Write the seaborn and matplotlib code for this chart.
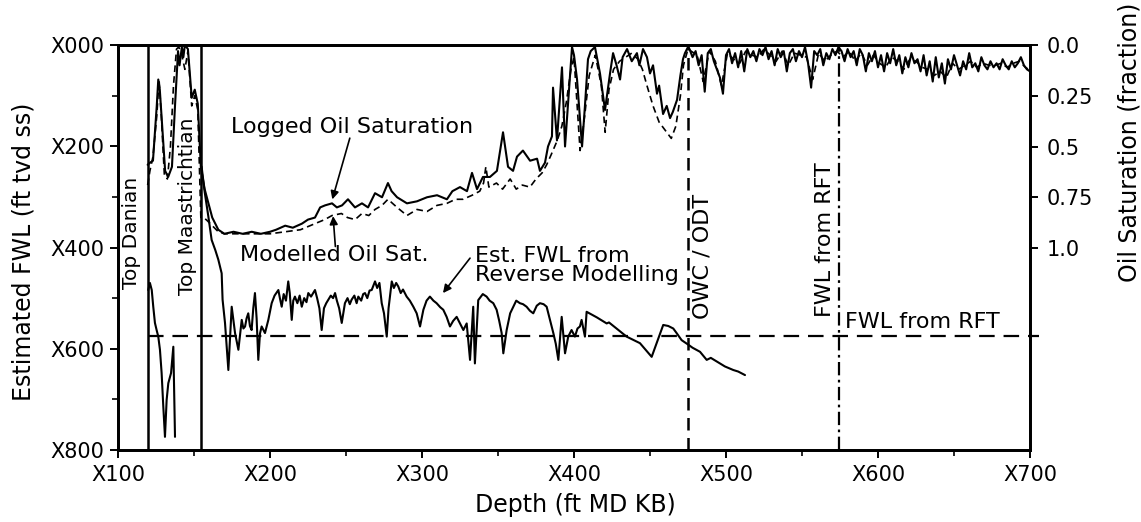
import matplotlib
matplotlib.use("Agg")
import matplotlib.pyplot as plt
import numpy as np
import pandas as pd
import seaborn as sns

# ---------------- data ----------------
# Logged oil saturation (fraction) vs depth (ft MD KB, "X" prefix dropped)
logged_depth = [119.5, 121, 123, 125.5, 126.5, 127.5, 129, 131, 133, 135.5, 137.5, 139.5, 140.5, 142, 143, 144, 146,
                148.5, 150.5, 152.5, 154.5, 157, 162, 166, 170, 176, 182, 188, 194, 200, 204, 210, 215, 221, 225,
                229.6, 233, 236.2, 240.8, 244, 247.4, 251.3, 255.9, 260.5, 264.5, 269.1, 273.7, 277.6, 280, 283.6,
                290.1, 296.7, 303.3, 309.9, 316.4, 320, 325, 329.6, 332.9, 336.2, 340.1, 344.7, 349.3, 353.3, 356.6,
                359.9, 362.5, 366.4, 371.1, 375.7, 377.6, 380.9, 382.9, 385.5, 386.2, 388.8, 392.1, 394.1, 396, 398.7,
                400, 402, 405.3, 407.2, 409.2, 411, 413.8, 417.1, 420.4, 423.7, 425.7, 428, 430.3, 432, 434.9, 438,
                441.4, 443, 445.4, 448, 450, 452, 454.6, 456, 458.6, 461, 463.2, 465, 467.8, 470, 471.7, 473, 475,
                476, 478, 480, 482, 484, 486, 488, 490, 492, 494, 496, 498, 500, 502, 504, 506, 508, 510, 512, 514,
                516, 518, 520, 522, 524, 526, 528, 530, 532, 534, 536, 538, 540, 542, 544, 546, 548, 550, 552, 554,
                556, 558, 560, 562, 564, 566, 568, 570, 572, 574, 576, 578, 580, 582, 584, 586, 588, 590, 592, 594,
                596, 598, 600, 602, 604, 606, 608, 610, 612, 614, 616, 618, 620, 622, 624, 626, 628, 630, 632, 634,
                636, 638, 640, 642, 644, 646, 648, 650, 652, 654, 656, 658, 660, 662, 664, 666, 668, 670, 672, 674,
                676, 678, 680, 682, 684, 686, 688, 690, 692, 694, 696, 698, 700]
logged_sat = [0.59, 0.58, 0.57, 0.30, 0.17, 0.22, 0.39, 0.62, 0.65, 0.60, 0.30, 0.03, 0.10, 0.01, 0.06, 0.00, 0.02,
              0.26, 0.22, 0.29, 0.60, 0.71, 0.85, 0.91, 0.93, 0.92, 0.93, 0.92, 0.93, 0.92, 0.91, 0.89, 0.90, 0.88, 0.86,
              0.85, 0.80, 0.79, 0.78, 0.80, 0.79, 0.76, 0.80, 0.78, 0.80, 0.73, 0.75, 0.68, 0.72, 0.75,
              0.78, 0.77, 0.75, 0.74, 0.76, 0.72, 0.70, 0.72, 0.63, 0.71, 0.65, 0.65, 0.62, 0.43, 0.60,
              0.62, 0.55, 0.52, 0.57, 0.56, 0.62, 0.58, 0.50, 0.45, 0.21, 0.47, 0.11, 0.50, 0.30, 0.01,
              0.05, 0.17, 0.50, 0.30, 0.07, 0.03, 0.01, 0.14, 0.32, 0.14, 0.04, 0.10, 0.17, 0.06, 0.02, 0.08,
              0.04, 0.10, 0.02, 0.06, 0.14, 0.10, 0.24, 0.20, 0.34, 0.30, 0.36, 0.33, 0.27, 0.15, 0.07, 0.04, 0.01,
              0.02, 0.06, 0.03, 0.10, 0.05, 0.23, 0.04, 0.02, 0.08, 0.12, 0.16, 0.24, 0.05, 0.02, 0.09, 0.04, 0.11, 0.03, 0.13, 0.02,
              0.06, 0.03, 0.08, 0.02, 0.05, 0.01, 0.07, 0.03, 0.10, 0.02, 0.06, 0.03, 0.13, 0.04, 0.02, 0.08, 0.03, 0.06, 0.01, 0.09,
              0.21, 0.03, 0.05, 0.02, 0.10, 0.04, 0.07, 0.02, 0.05, 0.01, 0.03, 0.08, 0.02, 0.06, 0.03, 0.10, 0.02, 0.05, 0.13, 0.04,
              0.08, 0.03, 0.11, 0.05, 0.13, 0.04, 0.09, 0.02, 0.10, 0.05, 0.14, 0.06, 0.11, 0.04, 0.09, 0.07, 0.13, 0.05, 0.15, 0.08,
              0.18, 0.06, 0.16, 0.09, 0.19, 0.07, 0.12, 0.05, 0.10, 0.15, 0.08, 0.12, 0.04, 0.11, 0.09, 0.13, 0.06, 0.10, 0.12, 0.08,
              0.11, 0.09, 0.12, 0.07, 0.10, 0.12, 0.08, 0.11, 0.09, 0.06, 0.10, 0.12, 0.13]

# Modelled oil saturation (fraction)
modelled_depth = [119.5, 121, 123, 125.5, 127, 128.5, 130.5, 132.5, 134.5, 136.5, 138.5, 140, 142, 144, 146, 148.5,
                  150.5, 152.5, 154.5, 158, 162, 166, 170, 180, 190, 200, 210, 220, 229.6, 236, 240.8, 247, 251,
                  256, 260.5, 265, 269.1, 273.7, 277.6, 283.6, 290.1, 296.7, 303.3, 309.9, 316.4, 322, 327, 333,
                  338, 340.5, 342, 344, 349, 353, 358, 362, 366, 371, 375, 379, 382, 385, 389, 392, 395, 398, 400,
                  404, 407, 410, 414, 418, 420.5, 423, 426, 430, 434, 438, 442, 445, 448, 452, 456, 460, 464, 467,
                  470, 472, 475, 477, 481, 485, 489, 493, 497, 501, 505, 509, 513, 517, 521, 525, 529, 533, 537,
                  541, 545, 549, 553, 557, 561, 565, 569, 573, 577, 581, 585, 589, 593, 597, 601, 605, 609, 613,
                  617, 621, 625, 629, 633, 637, 641, 645, 649, 653, 657, 661, 665, 669, 673, 677, 681, 685, 689,
                  693, 697, 699]
modelled_sat = [0.69, 0.62, 0.55, 0.35, 0.17, 0.35, 0.64, 0.66, 0.50, 0.20, 0.02, 0.01, 0.05, 0.12, 0.03, 0.30,
                0.25, 0.32, 0.85, 0.86, 0.89, 0.92, 0.93, 0.93, 0.93, 0.93, 0.92, 0.91, 0.88, 0.86, 0.84, 0.83, 0.85,
                0.86, 0.83, 0.84, 0.81, 0.79, 0.76, 0.80, 0.84, 0.81, 0.82, 0.79, 0.78, 0.76, 0.76, 0.74,
                0.72, 0.68, 0.60, 0.70, 0.68, 0.71, 0.66, 0.71, 0.69, 0.70, 0.66, 0.63, 0.59, 0.54, 0.47, 0.40, 0.28, 0.12, 0.06,
                0.52, 0.35, 0.15, 0.05, 0.20, 0.43, 0.22, 0.12, 0.08, 0.06, 0.04, 0.07, 0.12, 0.20, 0.30, 0.38, 0.42, 0.46, 0.40,
                0.25, 0.10, 0.02, 0.03, 0.05, 0.18, 0.03, 0.08, 0.20, 0.04, 0.07, 0.09, 0.03, 0.05, 0.06, 0.02, 0.05, 0.08, 0.03,
                0.10, 0.04, 0.05, 0.06, 0.17, 0.04, 0.08, 0.05, 0.03, 0.06, 0.03, 0.08, 0.04, 0.10, 0.05, 0.09, 0.11, 0.06, 0.08,
                0.12, 0.07, 0.08, 0.11, 0.12, 0.15, 0.13, 0.16, 0.09, 0.12, 0.10, 0.08, 0.11, 0.09, 0.10, 0.10, 0.09, 0.11, 0.09,
                0.08, 0.11, 0.12]

# Estimated FWL from reverse modelling (ft tvd ss, "X" prefix dropped); two separate segments
fwl_depth_a = [119.9, 121, 122.2, 123.2, 124.3, 125.4, 126.5, 127.6, 128.7, 129.8, 130.9, 132, 133.1, 134.9, 136.4, 137.5]
fwl_value_a = [484, 470, 484, 517, 549, 563, 576, 602, 648, 714, 774, 701, 668, 648, 596, 774]
fwl_depth_b = [155, 157, 159.5, 161.6, 164, 166, 168.2, 168.8, 170.4, 172.6, 174.8, 177, 179.2, 181.4, 182.5, 183.6,
               184.6, 185.7, 186.8, 187.9, 189, 190.1, 191.2, 192.3, 193.4, 194.5, 196.7, 198.9, 201.1, 203, 205.5,
               206.5, 207.7, 209, 210.5, 212, 213, 214.3, 215.3, 216.4, 218, 219.5, 220.9, 222.5, 224, 225.2, 227,
               229.6, 231, 232.5, 234, 235.5, 237, 238.4, 240, 241.5, 242.8, 244, 245.5, 247.2, 249.3, 251, 252.5,
               253.7, 255.5, 257, 258.1, 260, 261.3, 262.5, 264, 265.5, 266.9, 269.1, 270.5, 272, 273.5, 275, 276.8,
               278, 280.1, 281.5, 283, 284.4, 286, 287.5, 289.9, 292, 294.3, 296.5, 298.7, 300.9, 303, 305.2, 307.5,
               309.6, 312, 314, 316.2, 318.4, 320.5, 322.8, 325, 327.2, 329.4, 331.6, 333.7, 334.8, 337, 340,
               342.5, 344.5, 346.9, 349.1, 350.8, 352.4, 353.5, 355.7, 358, 360.1, 362, 364.4, 366.5, 368.8, 371,
               373.2, 375.5, 377.6, 380, 382, 384.2, 386.4, 388, 389.7, 391.9, 394.1, 396.2, 398.4, 400.6, 402.3,
               403.9, 405, 407.2, 408.3, 415, 421.5, 423, 428, 434.6, 443.4, 451.1, 458.7, 462, 465.3, 467.5, 470.8,
               475.2, 478, 482.9, 487.3, 490, 493.8, 499.3, 504.8, 508, 512.5]
fwl_value_b = [240, 290, 340, 385, 405, 424, 451, 503, 549, 642, 517, 569, 602, 543, 560, 556,
               540, 530, 555, 563, 520, 490, 540, 622, 570, 556, 569, 543, 510, 495, 484,
               500, 517, 492, 505, 467, 490, 543, 505, 497, 510, 495, 517, 500, 508, 490, 497,
               484, 500, 520, 563, 520, 510, 503, 495, 500, 490, 505, 520, 549, 510, 500, 512,
               503, 495, 510, 497, 505, 492, 490, 500, 485, 484, 467, 480, 470, 510, 530, 576,
               520, 467, 480, 470, 477, 490, 483, 497, 505, 517, 530, 556, 523, 505, 497, 505,
               510, 518, 523, 537, 556, 545, 537, 550, 563, 550, 622, 517, 629, 504, 492,
               497, 505, 510, 523, 545, 569, 609, 563, 530, 517, 505, 510, 512, 517, 525,
               530, 515, 510, 512, 517, 543, 569, 590, 622, 537, 609, 576, 563, 576, 560,
               556, 543, 576, 527, 538, 550, 548, 560, 576, 589, 616, 553, 555, 560, 569, 583,
               592, 598, 606, 622, 618, 625, 635, 642, 645, 652]

# Reference markers
top_danian = 119.5
top_maastrichtian = 154.5
owc_odt = 475
fwl_rft_depth = 574.5
fwl_rft_level = 575

x_ticks = [100, 200, 300, 400, 500, 600, 700]
x_tick_labels = ["X100", "X200", "X300", "X400", "X500", "X600", "X700"]
y_ticks = [0, 200, 400, 600, 800]
y_tick_labels = ["X000", "X200", "X400", "X600", "X800"]
sat_ticks = [0.0, 0.25, 0.5, 0.75, 1.0]
sat_tick_labels = ["0.0", "0.25", "0.5", "0.75", "1.0"]

# ---------------- figure ----------------
sns.set_theme(style="ticks")
plt.rcParams['font.family'] = ['DejaVu Sans']
plt.rcParams['text.color'] = 'black'
plt.rcParams['axes.labelcolor'] = 'black'
plt.rcParams['xtick.color'] = 'black'
plt.rcParams['ytick.color'] = 'black'
FS_TICK = 15
FS_ANN = 16
FS_TOP = 14.5
FS_LAB = 17

W, H = 1141, 522
fig = plt.figure(figsize=(W / 100, H / 100), dpi=100)
fig.patch.set_facecolor("white")
ax = fig.add_axes([118 / W, 1 - 450 / H, (1030 - 118) / W, (450 - 45) / H])
ax2 = ax.twinx()
ax.set_facecolor("white")

fwl_df = pd.DataFrame({
    "depth": fwl_depth_a + fwl_depth_b,
    "fwl": fwl_value_a + fwl_value_b,
    "seg": ["a"] * len(fwl_depth_a) + ["b"] * len(fwl_depth_b),
})
sns.lineplot(data=fwl_df, x="depth", y="fwl", units="seg", estimator=None, sort=False,
             color="black", lw=1.5, ax=ax, legend=False)

sns.lineplot(x=logged_depth, y=logged_sat, estimator=None, sort=False, color="black", lw=1.5, ax=ax2)
sns.lineplot(x=modelled_depth, y=modelled_sat, estimator=None, sort=False, color="black", lw=1.2, ax=ax2)
ax2.lines[-1].set_dashes([4, 2.5])

# reference lines
ax.axvline(top_danian, color="black", lw=1.8)
ax.axvline(top_maastrichtian, color="black", lw=1.8)
ax.axvline(owc_odt, color="black", lw=1.8, dashes=[5, 3])
ax.axvline(fwl_rft_depth, color="black", lw=1.6, dashes=[6, 2, 1.2, 2])
ax.plot([top_danian, 706], [fwl_rft_level, fwl_rft_level], color="black", lw=1.6,
        dashes=[7, 4], clip_on=False)

# axes limits / ticks
ax.set_xlim(100, 700)
ax.set_ylim(800, 0)
ax2.set_ylim(1.995, 0)
ax.set_xticks(x_ticks)
ax.set_xticklabels(x_tick_labels, fontsize=FS_TICK)
ax.set_xticks([150, 250, 350, 450, 550, 650], minor=True)
ax.set_yticks(y_ticks)
ax.set_yticklabels(y_tick_labels, fontsize=FS_TICK)
ax.set_yticks([100, 300, 500, 700], minor=True)
ax2.set_yticks(sat_ticks)
ax2.set_yticklabels(sat_tick_labels, fontsize=FS_TICK)
for a in (ax, ax2):
    a.tick_params(which="major", direction="out", length=6, width=1.4, colors="black", pad=4)
    a.tick_params(which="minor", direction="out", length=4, width=1.2, colors="black")
    for sp in a.spines.values():
        sp.set_linewidth(2.0)
        sp.set_color("black")
    a.set_xlabel("")
    a.set_ylabel("")
ax.tick_params(axis="x", pad=5)
ax2.tick_params(axis="y", pad=6)

# axis titles
fig.text(575 / W, 1 - 505 / H, "Depth (ft MD KB)", ha="center", va="center", fontsize=FS_LAB)
fig.text(24 / W, 1 - 252 / H, "Estimated FWL (ft tvd ss)", ha="center", va="center",
         rotation=90, fontsize=FS_LAB)
fig.text(1129 / W, 1 - 142 / H, "Oil Saturation (fraction)", ha="center", va="center",
         rotation=90, fontsize=FS_LAB)

# annotations (left-axis data coordinates)
ax.text(109.2, 371, "Top Danian", rotation=90, ha="center", va="center", fontsize=FS_TOP)
ax.text(146, 318, "Top Maastrichtian", rotation=90, ha="center", va="center", fontsize=FS_TOP)
ax.text(484.5, 417, "OWC / ODT", rotation=90, ha="center", va="center", fontsize=FS_ANN)
ax.text(565, 385, "FWL from RFT", rotation=90, ha="center", va="center", fontsize=FS_ANN)
ax.text(578.5, 547, "FWL from RFT", ha="left", va="center", fontsize=FS_ANN)

ax.text(254, 162, "Logged Oil Saturation", ha="center", va="center", fontsize=FS_ANN)
ax.annotate("", xy=(241, 305), xytext=(252.5, 184),
            arrowprops=dict(arrowstyle="-|>", color="black", lw=1.2, mutation_scale=12,
                            shrinkA=0, shrinkB=0))
ax.text(242, 415, "Modelled Oil Sat.", ha="center", va="center", fontsize=FS_ANN)
ax.annotate("", xy=(241.5, 338), xytext=(243, 398),
            arrowprops=dict(arrowstyle="-|>", color="black", lw=1.2, mutation_scale=12,
                            shrinkA=0, shrinkB=0))
ax.text(335, 435, "Est. FWL from\nReverse Modelling", ha="left", va="center",
        fontsize=FS_ANN, linespacing=0.95)
ax.annotate("", xy=(313.8, 490), xytext=(331.6, 421),
            arrowprops=dict(arrowstyle="-|>", color="black", lw=1.2, mutation_scale=12,
                            shrinkA=0, shrinkB=0))

fig.savefig("out.png", dpi=100, facecolor="white")
